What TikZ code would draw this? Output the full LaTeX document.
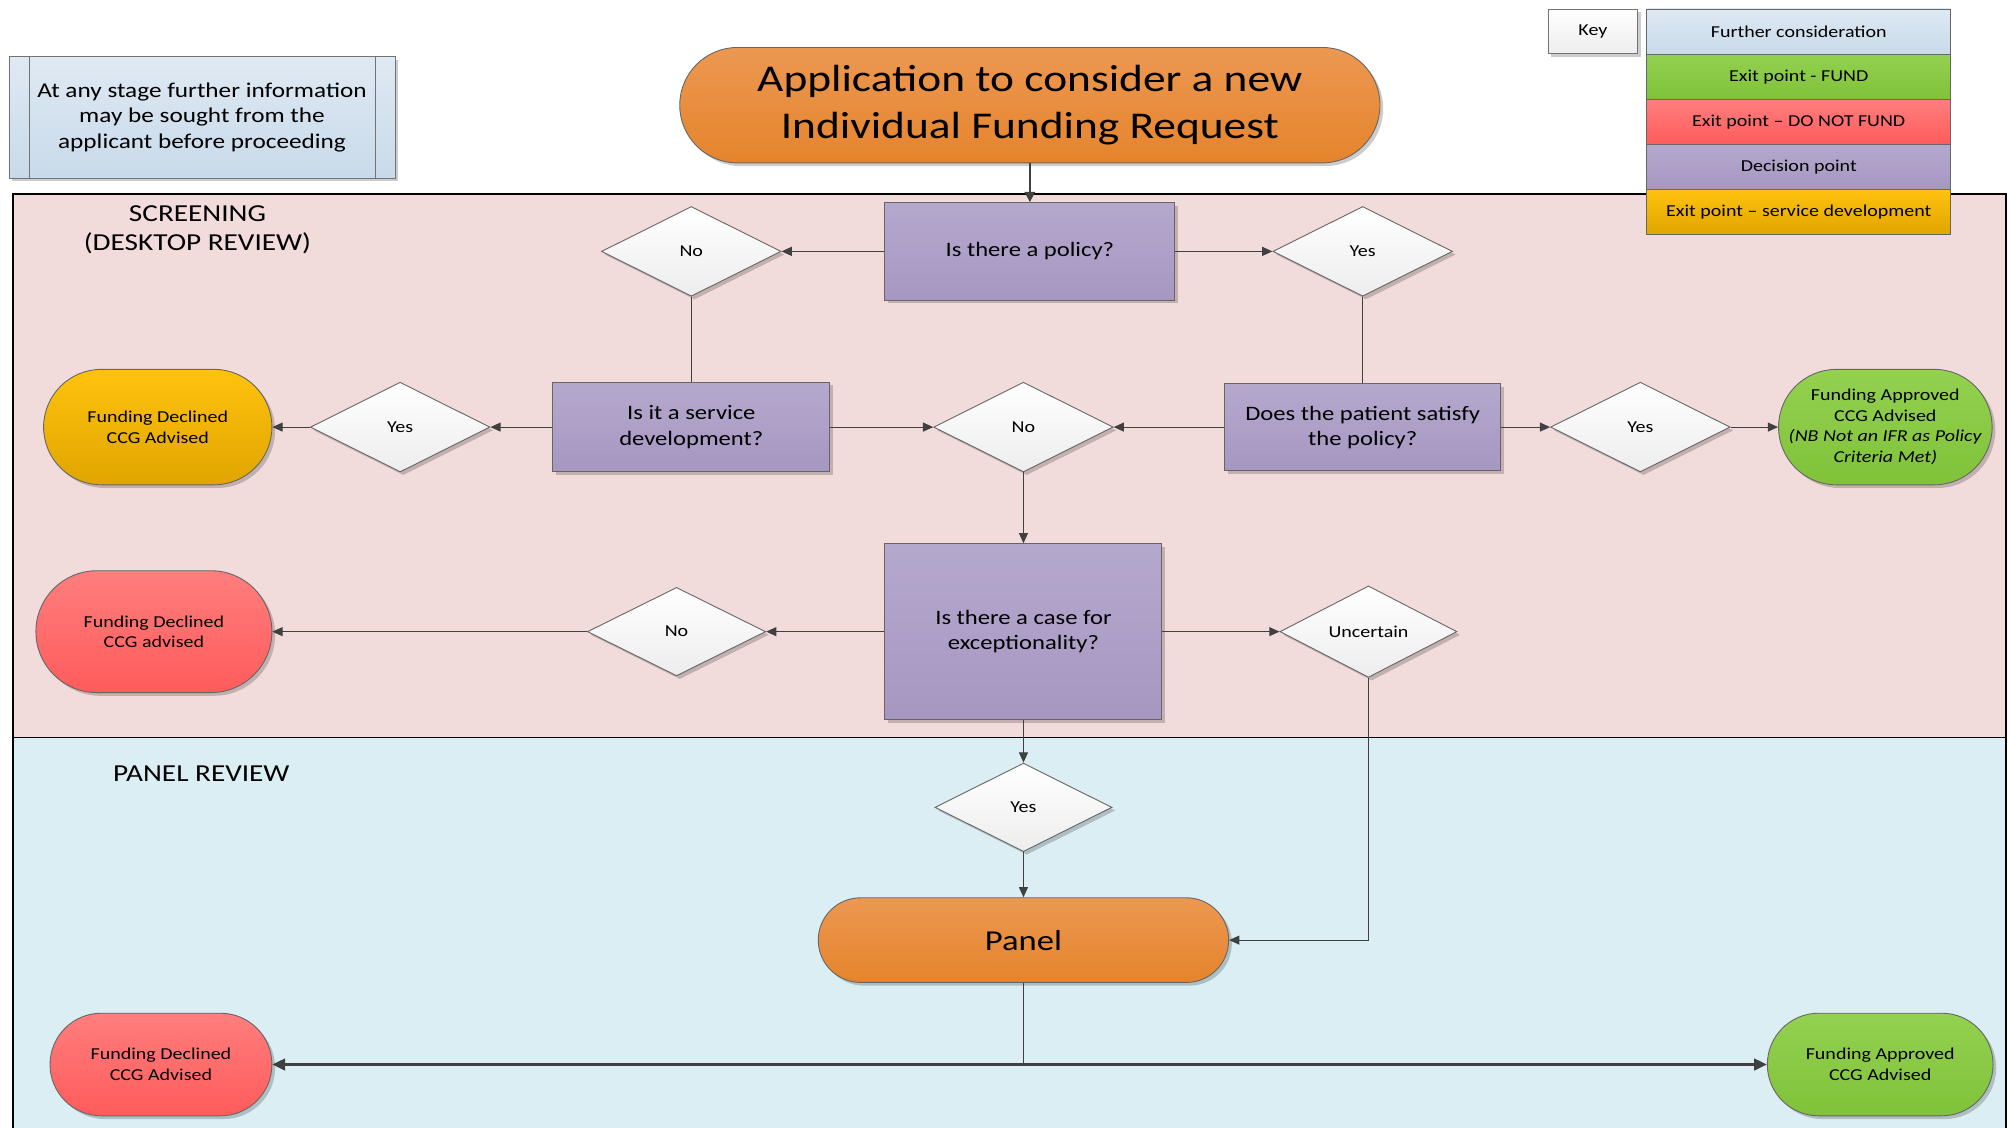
\documentclass[tikz,border=0pt]{standalone}
\usepackage{fontspec}
\setmainfont{Carlito}[FakeStretch=1.2]
\usetikzlibrary{shapes.geometric,shapes.misc,arrows.meta,shadows}
\definecolor{lanepink}{HTML}{F2DCDB}
\definecolor{laneblue}{HTML}{DAEEF3}
\definecolor{purtop}{HTML}{B5A8CD}
\definecolor{purbot}{HTML}{A697C1}
\definecolor{ortop}{HTML}{EC9852}
\definecolor{orbot}{HTML}{E5842C}
\definecolor{goldtop}{HTML}{FFC20E}
\definecolor{goldbot}{HTML}{E0A500}
\definecolor{redtop}{HTML}{FF7E7E}
\definecolor{redbot}{HTML}{FF5B5B}
\definecolor{grntop}{HTML}{93D150}
\definecolor{grnbot}{HTML}{80C23A}
\definecolor{lbtop}{HTML}{DFE9F3}
\definecolor{lbbot}{HTML}{C8DAEA}
\definecolor{dmbot}{HTML}{EDEDED}
\definecolor{conn}{HTML}{404040}
\newcommand{\fsz}[2]{\fontsize{#1}{#2}\selectfont}
\tikzset{
  shd/.style={drop shadow={shadow xshift=2.5pt, shadow yshift=-2.5pt, opacity=0.2, fill=black}},
  decisionbox/.style={rectangle, draw=black!60, line width=0.8pt, top color=purtop, bottom color=purbot, align=center, font=\fsz{16}{19.5}, inner sep=2pt, shd},
  choice/.style={diamond, draw=black!60, line width=0.7pt, top color=white, bottom color=dmbot, minimum width=140pt, minimum height=70pt, inner sep=0pt, font=\fsz{13}{16}, shd},
  terminal/.style={rounded rectangle, rounded rectangle arc length=180, draw=black!60, line width=0.7pt, align=center, inner sep=2pt, shd},
  orangeterm/.style={terminal, top color=ortop, bottom color=orbot},
  goldterm/.style={terminal, top color=goldtop, bottom color=goldbot, font=\fsz{13}{16}},
  redterm/.style={terminal, top color=redtop, bottom color=redbot, font=\fsz{13}{16}},
  greenterm/.style={terminal, top color=grntop, bottom color=grnbot, font=\fsz{13}{16}},
  keyrow/.style={rectangle, draw=black!60, line width=0.7pt, minimum width=237pt, minimum height=35.2pt, font=\fsz{13}{16}, inner sep=0pt},
  conline/.style={draw=conn, line width=0.9pt},
  arr/.style={conline, -{Triangle[length=8pt,width=7pt]}},
  bigarr/.style={draw=conn, line width=2.2pt, -{Triangle[length=10pt,width=9pt]}},
  lanelab/.style={align=center, font=\fsz{19}{23}}
}
\begin{document}
\begin{tikzpicture}[x=1pt,y=-1pt]
\useasboundingbox (0,0) rectangle (1568,879);
% lanes
\fill[lanepink] (10,151) rectangle (1564,575);
\fill[laneblue] (10,575) rectangle (1564,882);
\draw[black, line width=1.3pt] (10,882) -- (10,151) -- (1564,151) -- (1564,882);
\draw[black, line width=1.3pt] (10,575) -- (1564,575);
\node[lanelab] (scrlab) at (154,179) {SCREENING\\(DESKTOP REVIEW)};
\node[lanelab] (panlab) at (157,603) {PANEL REVIEW};
% info box
\node[rectangle, draw=black!55, line width=0.7pt, top color=lbtop, bottom color=lbbot, minimum width=301pt, minimum height=95pt, align=center, font=\fsz{16.4}{20}, shd] (info) at (157.5,91.5) {At any stage further information\\may be sought from the\\applicant before proceeding};
\draw[black!55, line width=0.7pt] ([xshift=16pt]info.north west) -- ([xshift=16pt]info.south west);
\draw[black!55, line width=0.7pt] ([xshift=-16pt]info.north east) -- ([xshift=-16pt]info.south east);
% key
\node[rectangle, draw=black!55, line width=0.7pt, top color=white, bottom color=dmbot, minimum width=70pt, minimum height=35pt, font=\fsz{13}{16}, shd] (key) at (1242,24.5) {Key};
\node[keyrow, top color=lbtop, bottom color=lbbot] (k1) at (1402.5,24.6) {Further consideration};
\node[keyrow, top color=grntop, bottom color=grnbot] (k2) at (1402.5,59.8) {Exit point - FUND};
\node[keyrow, top color=redtop, bottom color=redbot] (k3) at (1402.5,95.0) {Exit point -- DO NOT FUND};
\node[keyrow, top color=purtop, bottom color=purbot] (k4) at (1402.5,130.2) {Decision point};
\node[keyrow, top color=goldtop, bottom color=goldbot] (k5) at (1402.5,165.4) {Exit point -- service development};
% title
\node[orangeterm, minimum width=550pt, minimum height=90pt, font=\fsz{29.5}{36}] (title) at (803,82) {Application to consider a new\\Individual Funding Request};
% screening nodes
\node[decisionbox, minimum width=226pt, minimum height=76pt] (pol) at (803,196) {Is there a policy?};
\node[choice] (dno1) at (539,196) {No};
\node[choice] (dyes1) at (1062.5,196) {Yes};
\node[decisionbox, minimum width=216pt, minimum height=70pt] (serv) at (539,333) {Is it a service\\development?};
\node[decisionbox, minimum width=215pt, minimum height=68pt] (sat) at (1062.5,333) {Does the patient satisfy\\the policy?};
\node[choice] (dyes2) at (312,333) {Yes};
\node[goldterm, minimum width=182pt, minimum height=90pt] (gold) at (123,333) {Funding Declined\\CCG Advised};
\node[choice] (dno2) at (798,333) {No};
\node[choice] (dyes3) at (1279,333) {Yes};
\node[greenterm, minimum width=166pt, minimum height=90pt, inner xsep=-3pt] (grn1) at (1470,333) {Funding Approved\\CCG Advised\\\textit{(NB Not an IFR as Policy}\\\textit{Criteria Met)}};
\node[decisionbox, minimum width=216pt, minimum height=137pt] (exc) at (798,492.5) {Is there a case for\\exceptionality?};
\node[choice, minimum width=139pt, minimum height=69pt] (dno3) at (527.5,492.5) {No};
\node[redterm, minimum width=188pt, minimum height=95pt] (red1) at (120,492.5) {Funding Declined\\CCG advised};
\node[choice, minimum width=138pt, minimum height=69pt] (dunc) at (1067,492.5) {Uncertain};
% panel nodes
\node[choice, minimum width=138pt, minimum height=69pt] (dyes4) at (798,629.5) {Yes};
\node[orangeterm, minimum width=324pt, minimum height=66pt, font=\fsz{22.5}{27}] (panel) at (798,733) {Panel};
\node[redterm, minimum width=177pt, minimum height=80pt] (red2) at (125.5,830) {Funding Declined\\CCG Advised};
\node[greenterm, minimum width=180pt, minimum height=80pt] (grn2) at (1466,830) {Funding Approved\\CCG Advised};
\coordinate (split) at (798,830);
% connectors
\draw[draw=conn, line width=1.8pt, -{Triangle[length=8pt,width=8pt]}] (title.south) -- (pol.north);
\draw[arr] (pol.west) -- (dno1.east);
\draw[arr] (pol.east) -- (dyes1.west);
\draw[conline] (dno1.south) -- (serv.north);
\draw[conline] (dyes1.south) -- (sat.north);
\draw[arr] (serv.west) -- (dyes2.east);
\draw[arr] (dyes2.west) -- (gold.east);
\draw[arr] (serv.east) -- (dno2.west);
\draw[arr] (sat.west) -- (dno2.east);
\draw[arr] (sat.east) -- (dyes3.west);
\draw[arr] (dyes3.east) -- (grn1.west);
\draw[arr] (dno2.south) -- (exc.north);
\draw[arr] (exc.west) -- (dno3.east);
\draw[arr] (dno3.west) -- (red1.east);
\draw[arr] (exc.east) -- (dunc.west);
\draw[arr] (dunc.south) |- (panel.east);
\draw[arr] (exc.south) -- (dyes4.north);
\draw[arr] (dyes4.south) -- (panel.north);
\draw[conline] (panel.south) -- (split);
\draw[bigarr] (split) -- (red2.east);
\draw[bigarr] (split) -- (grn2.west);
\end{tikzpicture}
\end{document}
